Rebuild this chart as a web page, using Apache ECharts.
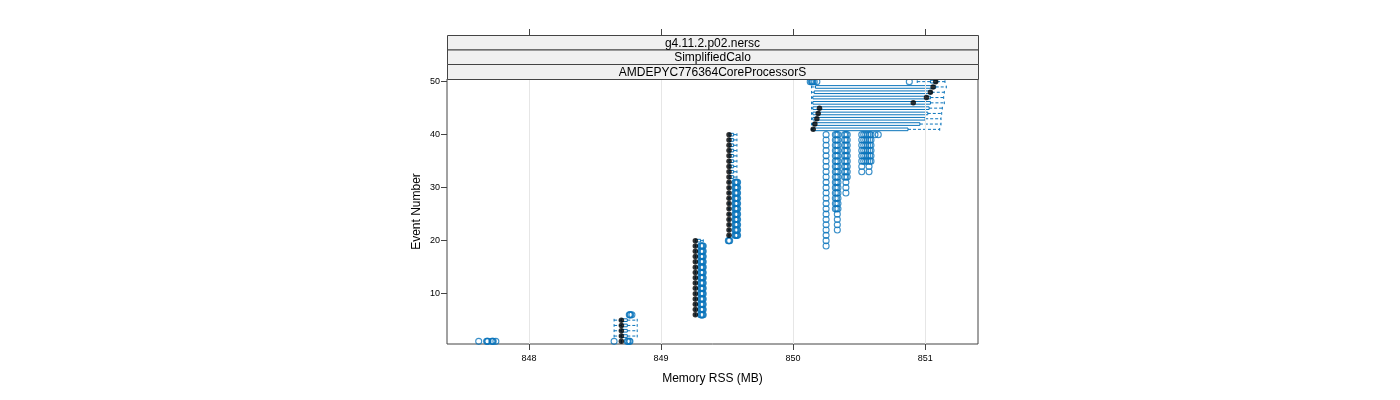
<!DOCTYPE html>
<html>
<head>
<meta charset="utf-8">
<script src="https://cdn.jsdelivr.net/npm/echarts@6/dist/echarts.min.js"></script>
<style>html,body{margin:0;padding:0;background:#fff;}#chart{width:1400px;height:400px;}</style>
</head>
<body>
<div id="chart"></div>
<script>
// ---- data ----
const events = ['1','2','3','4','5','6','7','8','9','10','11','12','13','14','15','16','17','18','19','20',
  '21','22','23','24','25','26','27','28','29','30','31','32','33','34','35','36','37','38','39','40',
  '41','42','43','44','45','46','47','48','49','50'];
const xTicks = [848, 849, 850, 851];
const yTickLabels = ['10', '20', '30', '40', '50'];
const stripLabels = ['g4.11.2.p02.nersc', 'SimplifiedCalo', 'AMDEPYC776364CoreProcessorS'];

// whisker low, Q1, median, Q3, whisker high per event (MB)
const whiskerLo = [848.70,848.645,848.645,848.645,848.645,849.26,849.26,849.26,849.26,849.26,
  849.26,849.26,849.26,849.26,849.26,849.26,849.26,849.26,849.26,849.26,
  849.515,849.515,849.515,849.515,849.515,849.515,849.515,849.515,849.515,849.515,
  849.515,849.515,849.515,849.515,849.515,849.515,849.515,849.515,849.515,849.515,
  850.14,850.14,850.14,850.14,850.14,850.14,850.14,850.14,850.14,850.94];
const q1 = [848.70,848.70,848.70,848.70,848.70,849.26,849.26,849.26,849.26,849.26,
  849.26,849.26,849.26,849.26,849.26,849.26,849.26,849.26,849.26,849.26,
  849.515,849.515,849.515,849.515,849.515,849.515,849.515,849.515,849.515,849.515,
  849.515,849.515,849.515,849.515,849.515,849.515,849.515,849.515,849.515,849.515,
  850.15,850.15,850.15,850.15,850.15,850.15,850.15,850.16,850.17,851.04];
const median = [848.70,848.70,848.70,848.70,848.70,849.26,849.26,849.26,849.26,849.26,
  849.26,849.26,849.26,849.26,849.26,849.26,849.26,849.26,849.26,849.26,
  849.515,849.515,849.515,849.515,849.515,849.515,849.515,849.515,849.515,849.515,
  849.515,849.515,849.515,849.515,849.515,849.515,849.515,849.515,849.515,849.515,
  850.152,850.165,850.18,850.19,850.20,850.91,851.01,851.04,851.06,851.08];
const q3 = [848.70,848.745,848.745,848.745,848.745,849.26,849.26,849.26,849.26,849.26,
  849.26,849.26,849.26,849.26,849.26,849.26,849.26,849.26,849.26,849.30,
  849.515,849.515,849.515,849.515,849.515,849.515,849.515,849.515,849.515,849.515,
  849.515,849.55,849.55,849.55,849.55,849.55,849.55,849.55,849.55,849.55,
  850.87,850.96,851.00,851.02,851.03,851.04,851.04,851.05,851.08,851.09];
const whiskerHi = [848.70,848.82,848.82,848.82,848.82,849.26,849.26,849.26,849.26,849.26,
  849.26,849.26,849.26,849.26,849.26,849.26,849.26,849.26,849.26,849.32,
  849.515,849.515,849.515,849.515,849.515,849.515,849.515,849.515,849.515,849.515,
  849.515,849.575,849.575,849.575,849.575,849.575,849.575,849.575,849.575,849.575,
  851.11,851.12,851.12,851.125,851.13,851.145,851.14,851.145,851.16,851.15];

// outliers per event (MB)
const outliers = [
  [847.62,847.68,847.685,847.69,847.72,847.725,847.73,847.75,848.645,848.745,848.75,848.76,848.765], // 1
  [], [], [], [],                                                              // 2-5
  [848.76,848.765,848.77,848.78,849.30,849.305,849.31,849.315,849.32],         // 6
  [849.30,849.305,849.31,849.315,849.32],[849.30,849.305,849.31,849.315,849.32], // 7-8
  [849.30,849.305,849.31,849.315,849.32],[849.30,849.305,849.31,849.315,849.32], // 9-10
  [849.30,849.305,849.31,849.315,849.32],[849.30,849.305,849.31,849.315,849.32], // 11-12
  [849.30,849.305,849.31,849.315,849.32],[849.30,849.305,849.31,849.315,849.32], // 13-14
  [849.30,849.305,849.31,849.315,849.32],[849.30,849.305,849.31,849.315,849.32], // 15-16
  [849.30,849.305,849.31,849.315,849.32],[849.30,849.305,849.31,849.315,849.32], // 17-18
  [849.30,849.305,849.31,849.315,849.32,850.25],                               // 19
  [849.51,849.515,849.52,850.25],                                              // 20
  [849.56,849.565,849.57,849.575,849.58,850.25],                               // 21
  [849.56,849.565,849.57,849.575,849.58,850.25,850.335],                       // 22
  [849.56,849.565,849.57,849.575,849.58,850.25,850.335],                       // 23
  [849.56,849.565,849.57,849.575,849.58,850.25,850.335],                       // 24
  [849.56,849.565,849.57,849.575,849.58,850.25,850.335],                       // 25
  [849.56,849.565,849.57,849.575,849.58,850.25,850.32,850.33,850.34],          // 26
  [849.56,849.565,849.57,849.575,849.58,850.25,850.32,850.33,850.34],          // 27
  [849.56,849.565,849.57,849.575,849.58,850.25,850.32,850.33,850.34],          // 28
  [849.56,849.565,849.57,849.575,849.58,850.25,850.32,850.33,850.34,850.40],   // 29
  [849.56,849.565,849.57,849.575,849.58,850.25,850.32,850.33,850.34,850.40],   // 30
  [849.56,849.565,849.57,849.575,849.58,850.25,850.32,850.33,850.34,850.40],   // 31
  [850.25,850.32,850.33,850.34,850.39,850.40,850.41],                          // 32
  [850.25,850.32,850.33,850.34,850.39,850.40,850.41,850.52,850.575],           // 33
  [850.25,850.32,850.33,850.34,850.39,850.40,850.41,850.52,850.575],           // 34
  [850.25,850.32,850.33,850.34,850.39,850.40,850.41,850.52,850.535,850.55,850.565,850.58,850.59], // 35
  [850.25,850.32,850.33,850.34,850.39,850.40,850.41,850.52,850.535,850.55,850.565,850.58,850.59], // 36
  [850.25,850.32,850.33,850.34,850.39,850.40,850.41,850.52,850.535,850.55,850.565,850.58,850.59], // 37
  [850.25,850.32,850.33,850.34,850.39,850.40,850.41,850.52,850.535,850.55,850.565,850.58,850.59], // 38
  [850.25,850.32,850.33,850.34,850.39,850.40,850.41,850.52,850.535,850.55,850.565,850.58,850.59], // 39
  [850.25,850.32,850.33,850.34,850.39,850.40,850.41,850.52,850.535,850.55,850.565,850.58,850.59,850.62,850.645], // 40
  [], [], [], [], [], [], [], [], [],                                          // 41-49
  [850.13,850.14,850.145,850.15,850.16,850.18,850.88]                          // 50
];

// ---- build ----
const BLUE = '#0a74bb';
const FONT = '"Liberation Sans", Arial, sans-serif';

const boxData = events.map((e, i) => [i, whiskerLo[i], q1[i], median[i], q3[i], whiskerHi[i]]);
const medianData = events.map((e, i) => [median[i], e]);
const outlierData = [];
outliers.forEach((vals, i) => vals.forEach(v => outlierData.push([v, events[i]])));

function renderBox(params, api) {
  const idx = api.value(0);
  const lo = api.value(1), a = api.value(2), b = api.value(4), hi = api.value(5);
  const pLo = api.coord([lo, idx]), pA = api.coord([a, idx]), pB = api.coord([b, idx]), pHi = api.coord([hi, idx]);
  const band = api.size([0, 1])[1];
  const h = band * 0.5;
  const y = pA[1];
  const children = [{
    type: 'rect',
    shape: { x: pA[0], y: y - h / 2, width: Math.max(pB[0] - pA[0], 0.01), height: h },
    style: { stroke: BLUE, fill: 'none', lineWidth: 1 }
  }];
  const dash = { stroke: BLUE, lineWidth: 1, lineDash: [3, 2] };
  const solid = { stroke: BLUE, lineWidth: 1 };
  if (lo < a) {
    children.push({ type: 'line', shape: { x1: pLo[0], y1: y, x2: pA[0], y2: y }, style: dash });
    children.push({ type: 'line', shape: { x1: pLo[0], y1: y - h / 2, x2: pLo[0], y2: y + h / 2 }, style: solid });
  }
  if (hi > b) {
    children.push({ type: 'line', shape: { x1: pB[0], y1: y, x2: pHi[0], y2: y }, style: dash });
    children.push({ type: 'line', shape: { x1: pHi[0], y1: y - h / 2, x2: pHi[0], y2: y + h / 2 }, style: solid });
  }
  return { type: 'group', children };
}

const chart = echarts.init(document.getElementById('chart'), null, { renderer: 'canvas' });
const yShow = (index, value) => yTickLabels.indexOf(value) >= 0;
const stripTop = 35, stripH = [14.5, 14.5, 15];
const graphics = [];
let sy = stripTop;
stripLabels.forEach((t, i) => {
  graphics.push({
    type: 'rect', left: 447, top: sy, z: 10,
    shape: { width: 531, height: stripH[i] },
    style: { fill: '#f0f0f0', stroke: '#444', lineWidth: 1 }
  });
  graphics.push({
    type: 'text', x: 712.5, y: sy + stripH[i] / 2 + 1, z: 11,
    style: { text: t, fill: '#000', font: '12px ' + FONT, textAlign: 'center', textVerticalAlign: 'middle' }
  });
  sy += stripH[i];
});

chart.setOption({
  animation: false,
  backgroundColor: '#fff',
  textStyle: { fontFamily: FONT },
  grid: { left: 447, right: 422, top: 79, bottom: 56, show: true, borderColor: '#444', borderWidth: 1, backgroundColor: 'transparent' },
  graphic: graphics,
  xAxis: [{
    type: 'value', min: 847.38, max: 851.40, position: 'bottom',
    name: 'Memory RSS (MB)', nameLocation: 'middle', nameGap: 29,
    nameTextStyle: { fontSize: 12, color: '#000', fontFamily: FONT },
    axisLine: { show: false },
    axisTick: { show: true, length: 6, customValues: xTicks, lineStyle: { color: '#444' } },
    axisLabel: { show: true, customValues: xTicks, fontSize: 9, color: '#000', margin: 10, fontFamily: FONT },
    splitLine: { show: false }
  }, {
    type: 'value', min: 847.38, max: 851.40, position: 'top', offset: 44,
    axisLine: { show: false },
    axisTick: { show: true, length: 6, customValues: xTicks, lineStyle: { color: '#444' } },
    axisLabel: { show: false, customValues: xTicks },
    splitLine: { show: false }
  }],
  yAxis: {
    type: 'category', data: events, boundaryGap: true,
    name: 'Event Number', nameLocation: 'middle', nameGap: 24, nameRotate: 90,
    nameTextStyle: { fontSize: 12, color: '#000', fontFamily: FONT },
    axisLine: { show: false },
    axisTick: { show: true, alignWithLabel: true, interval: yShow, length: 6, lineStyle: { color: '#444' } },
    axisLabel: { show: true, interval: yShow, fontSize: 9, color: '#000', margin: 7, fontFamily: FONT },
    splitLine: { show: false }
  },
  series: [{
    type: 'line', data: [], z: 1, silent: true,
    markLine: {
      silent: true, symbol: 'none', label: { show: false }, animation: false,
      lineStyle: { color: '#e6e6e6', width: 1, type: 'solid' },
      data: xTicks.map(v => ({ xAxis: v }))
    }
  }, {
    type: 'custom', renderItem: renderBox, data: boxData, z: 3, silent: true,
    encode: { x: [1, 2, 3, 4, 5], y: 0 }
  }, {
    type: 'scatter', data: outlierData, z: 4, silent: true,
    symbol: 'circle', symbolSize: 6,
    itemStyle: { color: 'rgba(0,0,0,0)', borderColor: BLUE, borderWidth: 1.1 }
  }, {
    type: 'scatter', data: medianData, z: 5, silent: true,
    symbol: 'circle', symbolSize: 5.5,
    itemStyle: { color: '#000' }
  }]
});
</script>
</body>
</html>
